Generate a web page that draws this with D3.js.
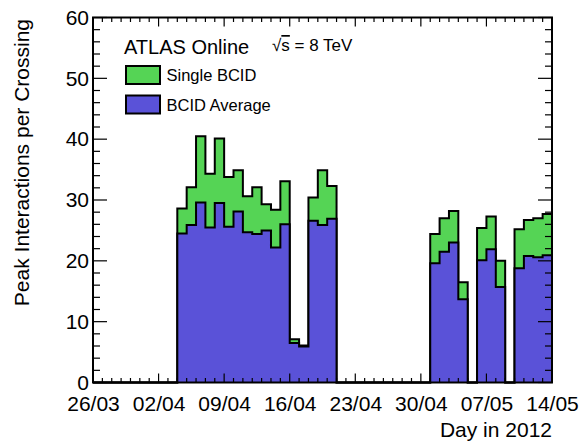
<!DOCTYPE html>
<html>
<head>
<meta charset="utf-8">
<script src="https://cdn.jsdelivr.net/npm/d3@7"></script>
<style>
  body { margin: 0; background: #fff; }
  svg { display: block; font-family: "Liberation Sans", Arial, Helvetica, sans-serif; }
</style>
</head>
<body>
<svg id="chart" width="579" height="441"></svg>
<script>
// Daily peak pile-up, spring 2012 (one bin per day)
const runDays = [
  "2012-04-04","2012-04-05","2012-04-06","2012-04-07","2012-04-08","2012-04-09",
  "2012-04-10","2012-04-11","2012-04-12","2012-04-13","2012-04-14","2012-04-15",
  "2012-04-16","2012-04-17","2012-04-18","2012-04-19","2012-04-20",
  "2012-05-01","2012-05-02","2012-05-03","2012-05-04",
  "2012-05-06","2012-05-07","2012-05-08",
  "2012-05-10","2012-05-11","2012-05-12","2012-05-13"
];
const singleBCID = [
  28.6, 32.1, 40.5, 34.3, 40.1, 33.8, 34.9, 30.6, 32.1, 29.3, 28.4, 33.1,
  7.1, 6.1, 30.4, 34.9, 32.3,
  24.4, 27.0, 28.2, 16.5,
  25.4, 27.3, 20.0,
  25.2, 26.7, 27.0, 27.7
];
const bcidAverage = [
  24.5, 25.9, 29.6, 25.5, 29.5, 25.6, 28.1, 24.7, 24.4, 25.0, 22.2, 26.0,
  6.5, 5.9, 26.6, 25.9, 26.9,
  19.6, 21.5, 23.0, 13.7,
  20.1, 21.9, 15.7,
  18.8, 20.8, 20.6, 20.9
];
const xTickLabels = ["26/03","02/04","09/04","16/04","23/04","30/04","07/05","14/05"];
const yTickValues = [0, 10, 20, 30, 40, 50, 60];

const parse = d3.utcParse("%Y-%m-%d");
const fmt = d3.utcFormat("%Y-%m-%d");
const start = parse("2012-03-26"), end = parse("2012-05-14");

const svg = d3.select("#chart");
const m = { left: 93, right: 552, top: 17.5, bottom: 382.5 };

const x = d3.scaleUtc().domain([start, end]).range([m.left, m.right]);
const y = d3.scaleLinear().domain([0, 60]).range([m.bottom, m.top]);

// Expand to one value per day across the whole axis (0 where there was no run)
const allDays = d3.utcDay.range(start, end);
function fullSeries(vals) {
  const map = new Map(runDays.map((d, i) => [d, vals[i]]));
  const pts = allDays.map(d => ({ date: d, v: map.get(fmt(d)) || 0 }));
  pts.push({ date: end, v: 0 });
  return pts;
}

const area = d3.area().curve(d3.curveStepAfter)
  .x(d => x(d.date)).y0(y(0)).y1(d => y(d.v));
const line = d3.line().curve(d3.curveStepAfter)
  .x(d => x(d.date)).y(d => y(d.v));

const series = [
  { vals: singleBCID, color: "#55d455" },
  { vals: bcidAverage, color: "#5a52d8" }
];
series.forEach(s => {
  const pts = fullSeries(s.vals);
  svg.append("path").attr("d", area(pts)).attr("fill", s.color);
  svg.append("path").attr("d", line(pts)).attr("fill", "none")
    .attr("stroke", "#000").attr("stroke-width", 2).attr("stroke-linejoin", "miter");
});

// Frame ticks on all four sides
const tickG = svg.append("g").attr("stroke", "#000").attr("stroke-width", 1.2);
allDays.concat([end]).forEach((d, i) => {
  const major = i % 7 === 0;
  const len = major ? 9 : 4.5;
  tickG.append("line").attr("x1", x(d)).attr("x2", x(d)).attr("y1", m.bottom).attr("y2", m.bottom - len);
  tickG.append("line").attr("x1", x(d)).attr("x2", x(d)).attr("y1", m.top).attr("y2", m.top + len);
});
d3.range(0, 61, 2).forEach(v => {
  const major = v % 10 === 0;
  const len = major ? 14 : 7;
  tickG.append("line").attr("x1", m.left).attr("x2", m.left + len).attr("y1", y(v)).attr("y2", y(v));
  tickG.append("line").attr("x1", m.right).attr("x2", m.right - len).attr("y1", y(v)).attr("y2", y(v));
});

svg.append("rect").attr("x", m.left).attr("y", m.top)
  .attr("width", m.right - m.left).attr("height", m.bottom - m.top)
  .attr("fill", "none").attr("stroke", "#000").attr("stroke-width", 2);

// Tick labels
const xAxis = d3.axisBottom(x)
  .tickValues(xTickLabels.map((_, i) => d3.utcDay.offset(start, i * 7)))
  .tickFormat((d, i) => xTickLabels[i]).tickSize(0).tickPadding(14);
const gx = svg.append("g").attr("transform", `translate(0,${m.bottom})`).call(xAxis);
gx.select(".domain").remove();
gx.selectAll("text").attr("font-size", 21).attr("fill", "#000")
  .attr("font-family", "Liberation Sans, Arial, sans-serif");

const yAxis = d3.axisLeft(y).tickValues(yTickValues).tickSize(0).tickPadding(4);
const gy = svg.append("g").attr("transform", `translate(${m.left},0)`).call(yAxis);
gy.select(".domain").remove();
gy.selectAll("text").attr("font-size", 21).attr("fill", "#000")
  .attr("font-family", "Liberation Sans, Arial, sans-serif");

// Axis titles
svg.append("text").attr("x", m.right).attr("y", 437).attr("text-anchor", "end")
  .attr("font-size", 21).text("Day in 2012");
svg.append("text").attr("transform", `translate(28.5,19) rotate(-90)`)
  .attr("text-anchor", "end").attr("font-size", 21).text("Peak Interactions per Crossing");

// Legend
svg.append("text").attr("x", 124).attr("y", 54).attr("font-size", 20).text("ATLAS Online");
const sq = svg.append("text").attr("x", 272).attr("y", 51).attr("font-size", 17);
sq.append("tspan").text("\u221A");
sq.append("tspan").attr("text-decoration", "overline").text("s");
sq.append("tspan").text(" = 8 TeV");

const legendItems = [
  { label: "Single BCID", color: series[0].color, y: 66 },
  { label: "BCID Average", color: series[1].color, y: 95.5 }
];
legendItems.forEach(it => {
  svg.append("rect").attr("x", 126).attr("y", it.y).attr("width", 34).attr("height", 18)
    .attr("fill", it.color).attr("stroke", "#000").attr("stroke-width", 2);
  svg.append("text").attr("x", 166.5).attr("y", it.y + 15).attr("font-size", 16.5).text(it.label);
});
</script>
</body>
</html>
